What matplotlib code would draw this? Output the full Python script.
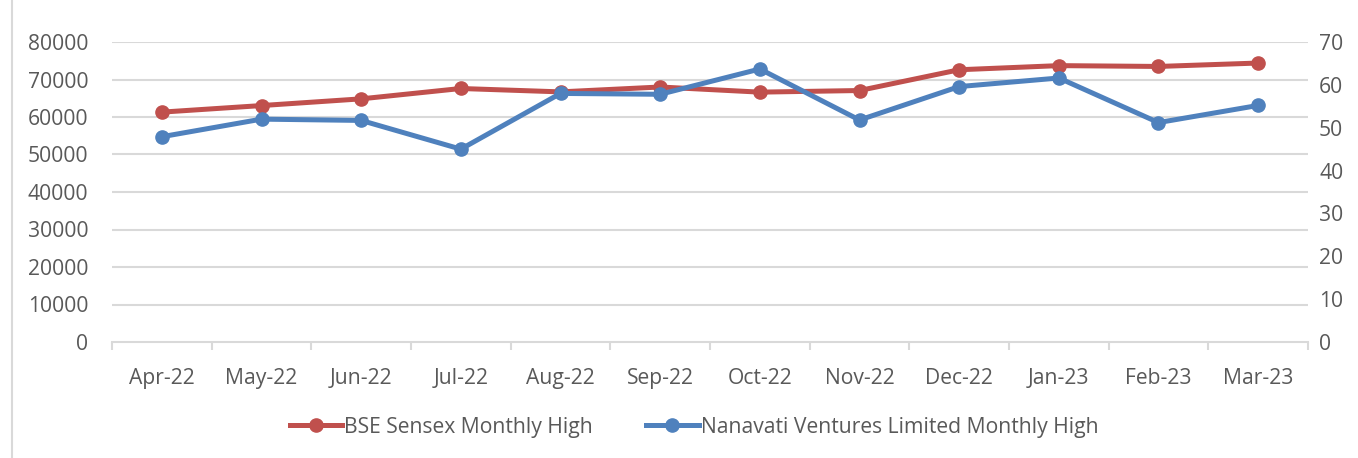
import matplotlib
matplotlib.use("Agg")
import matplotlib.pyplot as plt
from matplotlib.lines import Line2D

plt.rcParams['font.family'] = ['Open Sans', 'DejaVu Sans']

# data
months = ["Apr-22", "May-22", "Jun-22", "Jul-22", "Aug-22", "Sep-22",
          "Oct-22", "Nov-22", "Dec-22", "Jan-23", "Feb-23", "Mar-23"]
sensex_high = [61300, 63050, 64840, 67600, 66700, 68000,
               66630, 67060, 72600, 73700, 73480, 74390]
nanavati_high = [47.9, 52.0, 51.7, 45.0, 58.0, 57.8,
                 63.7, 51.8, 59.6, 61.6, 51.2, 55.2]
left_ticks = list(range(0, 80001, 10000))
right_ticks = list(range(0, 71, 10))

red = "#C0504D"
blue = "#4F81BD"
text_col = "#595959"
grid_col = "#D9D9D9"
fs = 15.2

fig = plt.figure(figsize=(13.58, 4.58), dpi=100)
ax = fig.add_axes([112 / 1358, 1 - 342 / 458, (1308 - 112) / 1358, 300 / 458])
ax2 = ax.twinx()

x = list(range(len(months)))

ax.set_ylim(0, 80000)
ax.set_yticks(left_ticks)
ax2.set_ylim(0, 70)
ax2.set_yticks(right_ticks)
ax.set_xlim(-0.5, len(months) - 0.5)

# gridlines from the left axis
for t in left_ticks[1:]:
    ax.axhline(t, color=grid_col, lw=1.5, zorder=0)

l1, = ax.plot(x, sensex_high, color=red, lw=3.6, marker="o", ms=9.5,
              label="BSE Sensex Monthly High", zorder=3)
l2, = ax2.plot(x, nanavati_high, color=blue, lw=3.6, marker="o", ms=9.5,
               label="Nanavati Ventures Limited Monthly High", zorder=3)

for a in (ax, ax2):
    for s in a.spines.values():
        s.set_visible(False)
    a.tick_params(axis="y", length=0, labelsize=fs, labelcolor=text_col)
ax.tick_params(axis="y", pad=17)
ax2.tick_params(axis="y", pad=8)

# category axis with ticks between categories
ax.spines["bottom"].set_visible(True)
ax.spines["bottom"].set_color(grid_col)
ax.spines["bottom"].set_linewidth(1.5)
ax.set_xticks(x)
ax.set_xticklabels(months)
ax.tick_params(axis="x", length=0, labelsize=fs, labelcolor=text_col, pad=19)
ax.set_xticks([i - 0.5 for i in range(len(months) + 1)], minor=True)
ax.tick_params(axis="x", which="minor", length=6, width=1.5, color=grid_col)

fig.legend(handles=[l1, l2], loc="center", bbox_to_anchor=(694 / 1358, 1 - 427 / 458),
           ncol=2, frameon=False, fontsize=fs, labelcolor=text_col,
           handlelength=2.5, handletextpad=0.1, columnspacing=2.5)

# chart border on the left
fig.add_artist(Line2D([12 / 1358, 12 / 1358], [0, 1], color=grid_col, lw=1.5))

fig.savefig("out.png", dpi=100)
